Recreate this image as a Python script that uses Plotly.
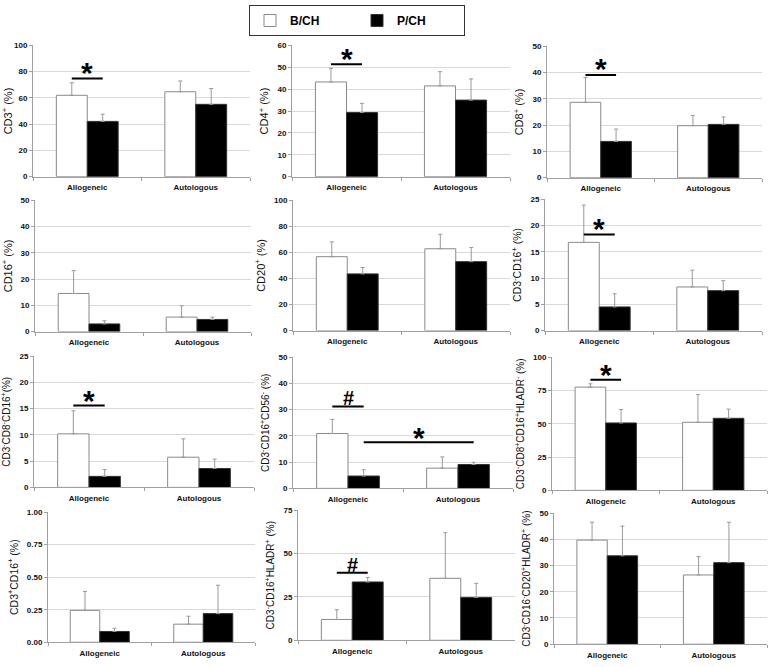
import plotly.graph_objects as go

# ---------------- data ----------------
categories = ["Allogeneic", "Autologous"]
series_names = ["B/CH", "P/CH"]

y_titles = [
    "CD3<sup>+</sup> (%)",
    "CD4<sup>+</sup> (%)",
    "CD8<sup>+</sup> (%)",
    "CD16<sup>+</sup> (%)",
    "CD20<sup>+</sup> (%)",
    "CD3<sup>-</sup>CD16<sup>+</sup> (%)",
    "CD3<sup>-</sup>CD8<sup>-</sup>CD16<sup>+</sup>(%)",
    "CD3<sup>-</sup>CD16<sup>+</sup>CD56<sup>-</sup> (%)",
    "CD3<sup>-</sup>CD8<sup>+</sup>CD16<sup>+</sup>HLADR<sup>-</sup> (%)",
    "CD3<sup>+</sup>CD16<sup>+</sup> (%)",
    "CD3<sup>-</sup>CD16<sup>+</sup>HLADR<sup>+</sup> (%)",
    "CD3<sup>-</sup>CD16<sup>-</sup>CD20<sup>+</sup>HLADR<sup>+</sup> (%)",
]
y_max = [100, 60, 50, 50, 100, 25, 25, 50, 100, 1.0, 75, 50]
y_dtick = [20, 10, 10, 10, 20, 5, 5, 10, 25, 0.25, 25, 10]
y_format = ["d", "d", "d", "d", "d", "d", "d", "d", "d", ".2f", "d", "d"]

bch_mean = [[62.0, 64.7], [43.3, 41.5], [28.7, 19.8], [14.5, 5.5], [56.7, 62.8], [16.8, 8.3],
            [10.2, 5.75], [20.9, 7.7], [77.5, 51.1], [0.245, 0.139], [12.0, 35.7], [39.7, 26.4]]
bch_err = [[9.6, 8.2], [6.2, 6.5], [9.5, 3.9], [8.7, 4.3], [11.4, 11.1], [7.1, 3.2],
           [4.4, 3.5], [5.4, 4.3], [2.5, 20.8], [0.145, 0.061], [5.6, 26.3], [6.8, 7.0]]
pch_mean = [[42.1, 55.1], [29.3, 35.0], [13.8, 20.3], [2.9, 4.6], [43.5, 52.9], [4.5, 7.6],
            [2.1, 3.6], [4.7, 9.1], [50.6, 54.1], [0.083, 0.22], [33.6, 24.7], [33.7, 31.1]]
pch_err = [[5.5, 12.1], [4.2, 9.7], [4.7, 2.8], [1.2, 0.9], [4.9, 10.9], [2.5, 1.9],
           [1.3, 1.8], [2.4, 0.85], [10.1, 6.9], [0.025, 0.218], [2.6, 8.1], [11.3, 15.4]]

# significance: panel, (cat, series) from, (cat, series) to, line y, symbol y, symbol
sig_panel = [0, 1, 2, 5, 6, 7, 7, 8, 10]
sig_from = [(0, 0), (0, 0), (0, 0), (0, 0), (0, 0), (0, 0), (0, 1), (0, 0), (0, 0)]
sig_to = [(0, 1), (0, 1), (0, 1), (0, 1), (0, 1), (0, 1), (1, 1), (0, 1), (0, 1)]
sig_line_y = [74.7, 51.4, 39.1, 18.3, 15.6, 31.2, 17.6, 83.0, 38.9]
sig_sym_y = [81.7, 55.3, 42.6, 20.0, 17.2, 34.5, 20.4, 88.9, 43.6]
sig_symbol = ["*", "*", "*", "*", "*", "#", "*", "*", "#"]

# ---------------- layout (pixel boxes: left, right, top, bottom) ----------------
W, H = 771, 667
boxes = [
    (33, 250, 42, 175), (292, 510, 42, 175), (547, 762, 43, 176),
    (35, 251, 199, 332), (293, 510, 199, 331), (545, 762, 198, 331),
    (34, 254, 357, 490), (293, 513, 358, 491), (552, 767, 358, 493),
    (48, 255, 515, 647), (298, 515, 513, 645), (554, 767, 516, 649),
]
title_size = [11, 11, 11, 11, 11, 10.5, 10, 10, 10, 10.5, 10, 10]
BARGAP = 0.43
FONT = "Arial, Liberation Sans, sans-serif"

fig = go.Figure()
for i in range(12):
    n = "" if i == 0 else str(i + 1)
    for s, (means, errs) in enumerate([(bch_mean, bch_err), (pch_mean, pch_err)]):
        fig.add_trace(go.Bar(
            x=categories, y=means[i], name=series_names[s],
            xaxis="x" + n, yaxis="y" + n,
            showlegend=(i == 0), legendgroup=series_names[s],
            marker=dict(color="white" if s == 0 else "black",
                        line=dict(color="#8a8a8a" if s == 0 else "#333333", width=1)),
            error_y=dict(type="data", array=errs[i], arrayminus=[0, 0], symmetric=False,
                         color="#9a9a9a", thickness=1, width=2),
        ))
    l, r, t, b = boxes[i]
    xa = dict(domain=[l / W, r / W], anchor="y" + n, type="category",
              showgrid=False, showline=True, linecolor="#a0a0a0", linewidth=1,
              ticks="outside", tickson="boundaries", ticklen=3, tickcolor="#a0a0a0",
              ticklabelstandoff=3,
              tickfont=dict(family=FONT, size=8, color="#111", weight="bold"), range=[-0.5, 1.5],
              fixedrange=True)
    ya = dict(domain=[1 - b / H, 1 - t / H], anchor="x" + n, range=[0, y_max[i]],
              dtick=y_dtick[i], tick0=0, tickformat=y_format[i],
              showgrid=True, gridcolor="#d9d9d9", gridwidth=1, zeroline=False,
              showline=True, linecolor="#a0a0a0", linewidth=1,
              ticks="outside", ticklen=3, tickcolor="#a0a0a0",
              tickfont=dict(family=FONT, size=8, color="#111", weight="bold"),
              title=dict(text=y_titles[i], font=dict(family=FONT, size=title_size[i], color="#111"),
                         standoff=6))
    fig.layout["xaxis" + n] = xa
    fig.layout["yaxis" + n] = ya

half = (1 - BARGAP) / 2
def xpos(cs):
    c, s = cs
    return c + (s - 0.5) * half

for k in range(len(sig_panel)):
    p = sig_panel[k]
    n = "" if p == 0 else str(p + 1)
    x0, x1 = xpos(sig_from[k]), xpos(sig_to[k])
    fig.add_shape(type="line", xref="x" + n, yref="y" + n, x0=x0, x1=x1,
                  y0=sig_line_y[k], y1=sig_line_y[k], line=dict(color="black", width=2))
    is_star = sig_symbol[k] == "*"
    fig.add_annotation(xref="x" + n, yref="y" + n, x=(x0 + x1) / 2, y=sig_sym_y[k],
                       text="<b>%s</b>" % sig_symbol[k], showarrow=False,
                       yanchor="middle", yshift=-3 if is_star else 0,
                       font=dict(family=FONT, size=30 if is_star else 20, color="black"))

fig.update_layout(
    width=W, height=H, margin=dict(l=0, r=0, t=0, b=0),
    paper_bgcolor="white", plot_bgcolor="white",
    barmode="group", bargap=BARGAP, bargroupgap=0,
    font=dict(family=FONT, color="#111"),
    legend=dict(orientation="h", x=357 / W, xanchor="center", y=1 - 1 / H, yanchor="top",
                bordercolor="#333", borderwidth=1, bgcolor="white",
                font=dict(family=FONT, size=12, color="black", weight="bold"),
                entrywidth=62, itemwidth=30, tracegroupgap=0,
                traceorder="normal"),
)

fig.write_html("out.html", config={"displayModeBar": False, "staticPlot": True},
               post_script="document.body.style.margin='0px';")
